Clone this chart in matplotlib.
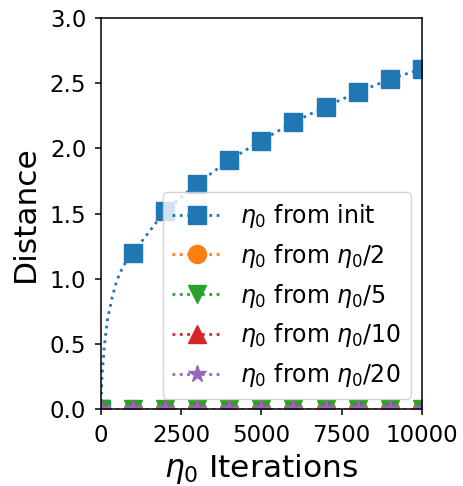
import matplotlib
matplotlib.use("Agg")
import matplotlib.pyplot as plt

# Blue series: dense dotted curve, markers every 1000 iterations
iters_init = [0, 30, 100, 200, 350, 500, 700, 1000, 2000, 3000, 4000, 5000,
              6000, 7000, 8000, 9000, 10000]
dist_init = [0.0, 0.24, 0.47, 0.68, 0.86, 0.99, 1.10, 1.20, 1.52, 1.73, 1.91,
             2.06, 2.20, 2.32, 2.43, 2.53, 2.61]
marker_idx_init = [0, 7, 8, 9, 10, 11, 12, 13, 14, 15, 16]

iters = [0, 1000, 2000, 3000, 4000, 5000, 6000, 7000, 8000, 9000, 10000]
dist_half = [0.0, 0.0, 0.0, 0.0, 0.0, 0.0, 0.0, 0.0, 0.0, 0.0, 0.0]
dist_fifth = [0.0, 0.0, 0.0, 0.0, 0.0, 0.0, 0.0, 0.0, 0.0, 0.0, 0.0]
dist_tenth = [0.0, 0.0, 0.0, 0.0, 0.0, 0.0, 0.0, 0.0, 0.0, 0.0, 0.0]
dist_twentieth = [0.0, 0.0, 0.0, 0.0, 0.0, 0.0, 0.0, 0.0, 0.0, 0.0, 0.0]

labels = [r"$\eta_0$ from init", r"$\eta_0$ from $\eta_0/2$", r"$\eta_0$ from $\eta_0/5$",
          r"$\eta_0$ from $\eta_0/10$", r"$\eta_0$ from $\eta_0/20$"]

fig = plt.figure(figsize=(4.63, 4.86), dpi=100)
ax = fig.add_axes([0.218, 0.158, 0.693, 0.805])

lw = 2
ms = 13
ax.plot(iters_init, dist_init, ':', color='#1f77b4', marker='s', ms=ms, lw=lw,
        markevery=marker_idx_init, label=labels[0])
ax.plot(iters, dist_half, ':', color='#ff7f0e', marker='o', ms=ms, lw=lw, label=labels[1])
ax.plot(iters, dist_fifth, ':', color='#2ca02c', marker='v', ms=ms, lw=lw, label=labels[2])
ax.plot(iters, dist_tenth, ':', color='#d62728', marker='^', ms=ms, lw=lw, label=labels[3])
ax.plot(iters, dist_twentieth, ':', color='#9467bd', marker='*', ms=ms, lw=lw, label=labels[4])

ax.set_xlim(0, 10000)
ax.set_ylim(0, 3.0)
ax.set_xticks([0, 2500, 5000, 7500, 10000])
ax.set_yticks([0.0, 0.5, 1.0, 1.5, 2.0, 2.5, 3.0])
ax.tick_params(labelsize=16.5, length=4.5, width=1.1, pad=6)
for s in ax.spines.values():
    s.set_linewidth(1.1)
ax.set_xlabel(r"$\eta_0$ Iterations", fontsize=22.5, labelpad=4)
ax.set_ylabel("Distance", fontsize=22.5, labelpad=7)
ax.legend(loc='lower right', fontsize=17, handlelength=2.1, borderaxespad=0.45)

fig.savefig("out.png", dpi=100)
